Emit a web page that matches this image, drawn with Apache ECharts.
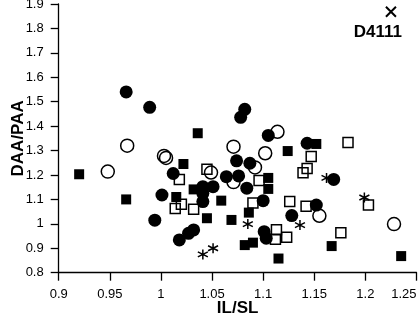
<!DOCTYPE html>
<html>
<head>
<meta charset="utf-8">
<script src="https://cdn.jsdelivr.net/npm/echarts@6/dist/echarts.min.js"></script>
<style>
  html, body { margin: 0; padding: 0; background: #fff; }
  #container { width: 420px; height: 320px; }
</style>
</head>
<body>
<div id="container"></div>
<script>
// values, [IL/SL, DAA/PAA]
const filledCircles = [
  [0.966, 1.540], [0.989, 1.477], [1.082, 1.469], [1.078, 1.436],
  [1.105, 1.362], [1.143, 1.330], [1.074, 1.258], [1.087, 1.248],
  [1.012, 1.206], [1.064, 1.193], [1.076, 1.196], [1.084, 1.146],
  [1.041, 1.152], [1.051, 1.152], [1.041, 1.125], [1.041, 1.091],
  [1.001, 1.118], [0.994, 1.015], [1.032, 0.975], [1.027, 0.961],
  [1.018, 0.934], [1.100, 1.095], [1.128, 1.034], [1.152, 1.077],
  [1.101, 0.968], [1.103, 0.941], [1.169, 1.182]
]
const openCircles = [
  [0.967, 1.320], [1.003, 1.278], [1.005, 1.270], [0.948, 1.214],
  [1.114, 1.377], [1.071, 1.316], [1.102, 1.289], [1.092, 1.231],
  [1.049, 1.210], [1.071, 1.171], [1.155, 1.033], [1.228, 0.999]
]
const filledSquares = [
  [0.920, 1.203], [0.966, 1.100], [1.036, 1.371], [1.022, 1.245],
  [1.015, 1.110], [1.032, 1.141], [1.045, 1.023], [1.059, 1.095],
  [1.069, 1.016], [1.124, 1.298], [1.152, 1.327], [1.105, 1.188],
  [1.105, 1.143], [1.086, 1.046], [1.082, 0.913], [1.090, 0.923],
  [1.115, 0.858], [1.167, 0.909], [1.235, 0.868]
]
const openSquares = [
  [1.045, 1.223], [1.018, 1.182], [1.020, 1.080], [1.014, 1.063],
  [1.032, 1.060], [1.096, 1.177], [1.090, 1.085], [1.126, 1.091],
  [1.142, 1.072], [1.113, 0.976], [1.112, 0.937], [1.123, 0.945],
  [1.147, 1.276], [1.143, 1.227], [1.139, 1.209], [1.183, 1.333],
  [1.176, 0.964], [1.203, 1.077]
]
const asterisks = [
  [1.041, 0.875], [1.051, 0.900], [1.085, 0.999], [1.136, 0.995],
  [1.162, 1.188], [1.199, 1.108]
]
const outlier = [[1.225, 1.868]]
const outlierName = 'D4111'

const xTicks = { min: 0.9, max: 1.25, step: 0.05 }
const yTicks = { min: 0.8, max: 1.9, step: 0.1 }

const myChart = echarts.init(document.getElementById('container'), null, { renderer: 'canvas' })

const font = 'Liberation Sans, Arial, sans-serif'
const star = 'path://M0,-5L0,5M-4.33,-2.5L4.33,2.5M-4.33,2.5L4.33,-2.5'
const cross = 'path://M0,0L10,10M0,10L10,0'

const axisCommon = {
  type: 'value',
  nameLocation: 'middle',
  nameMoveOverlap: false,
  nameTextStyle: { color: '#000', fontFamily: font, fontSize: 17, fontWeight: 'bold' },
  axisLine: { show: true, lineStyle: { color: '#000', width: 1.3 } },
  axisTick: { show: true, length: 8, lineStyle: { color: '#000', width: 1.3 } },
  axisLabel: { color: '#000', fontFamily: font, fontSize: 13, margin: 15, showMinLabel: true, showMaxLabel: true },
  splitLine: { show: false }
}

const option = {
  animation: false,
  backgroundColor: '#fff',
  grid: { left: 58.7, right: 3.5, top: 4, bottom: 47.3, outerBoundsMode: 'none' },
  xAxis: {
    ...axisCommon,
    name: 'IL/SL',
    nameGap: 27,
    min: xTicks.min,
    max: xTicks.max,
    interval: xTicks.step,
    axisLabel: { ...axisCommon.axisLabel, alignMaxLabel: 'right' }
  },
  yAxis: {
    ...axisCommon,
    name: 'DAA/PAA',
    nameGap: 32,
    min: yTicks.min,
    max: yTicks.max,
    interval: yTicks.step
  },
  series: [
    {
      type: 'scatter',
      symbol: 'rect',
      symbolSize: 10,
      itemStyle: { color: 'rgba(0,0,0,0)', borderColor: '#000', borderWidth: 1.5, opacity: 1 },
      data: openSquares
    },
    {
      type: 'scatter',
      symbol: 'circle',
      symbolSize: 13,
      itemStyle: { color: 'rgba(0,0,0,0)', borderColor: '#000', borderWidth: 1.5, opacity: 1 },
      data: openCircles
    },
    {
      type: 'scatter',
      symbol: 'rect',
      symbolSize: 10,
      itemStyle: { color: '#000', opacity: 1 },
      data: filledSquares
    },
    {
      type: 'scatter',
      symbol: 'circle',
      symbolSize: 13,
      itemStyle: { color: '#000', opacity: 1 },
      data: filledCircles
    },
    {
      type: 'scatter',
      symbol: star,
      symbolSize: 10,
      itemStyle: { color: 'none', borderColor: '#000', borderWidth: 1.5, opacity: 1 },
      data: asterisks
    },
    {
      type: 'scatter',
      symbol: cross,
      symbolSize: 10,
      itemStyle: { color: 'none', borderColor: '#000', borderWidth: 2, opacity: 1 },
      label: {
        show: true,
        position: 'bottom',
        distance: 4,
        offset: [-13, 0],
        formatter: outlierName,
        color: '#000',
        fontFamily: font,
        fontSize: 17,
        fontWeight: 'bold'
      },
      data: outlier
    }
  ]
}

myChart.setOption(option)
</script>
</body>
</html>
